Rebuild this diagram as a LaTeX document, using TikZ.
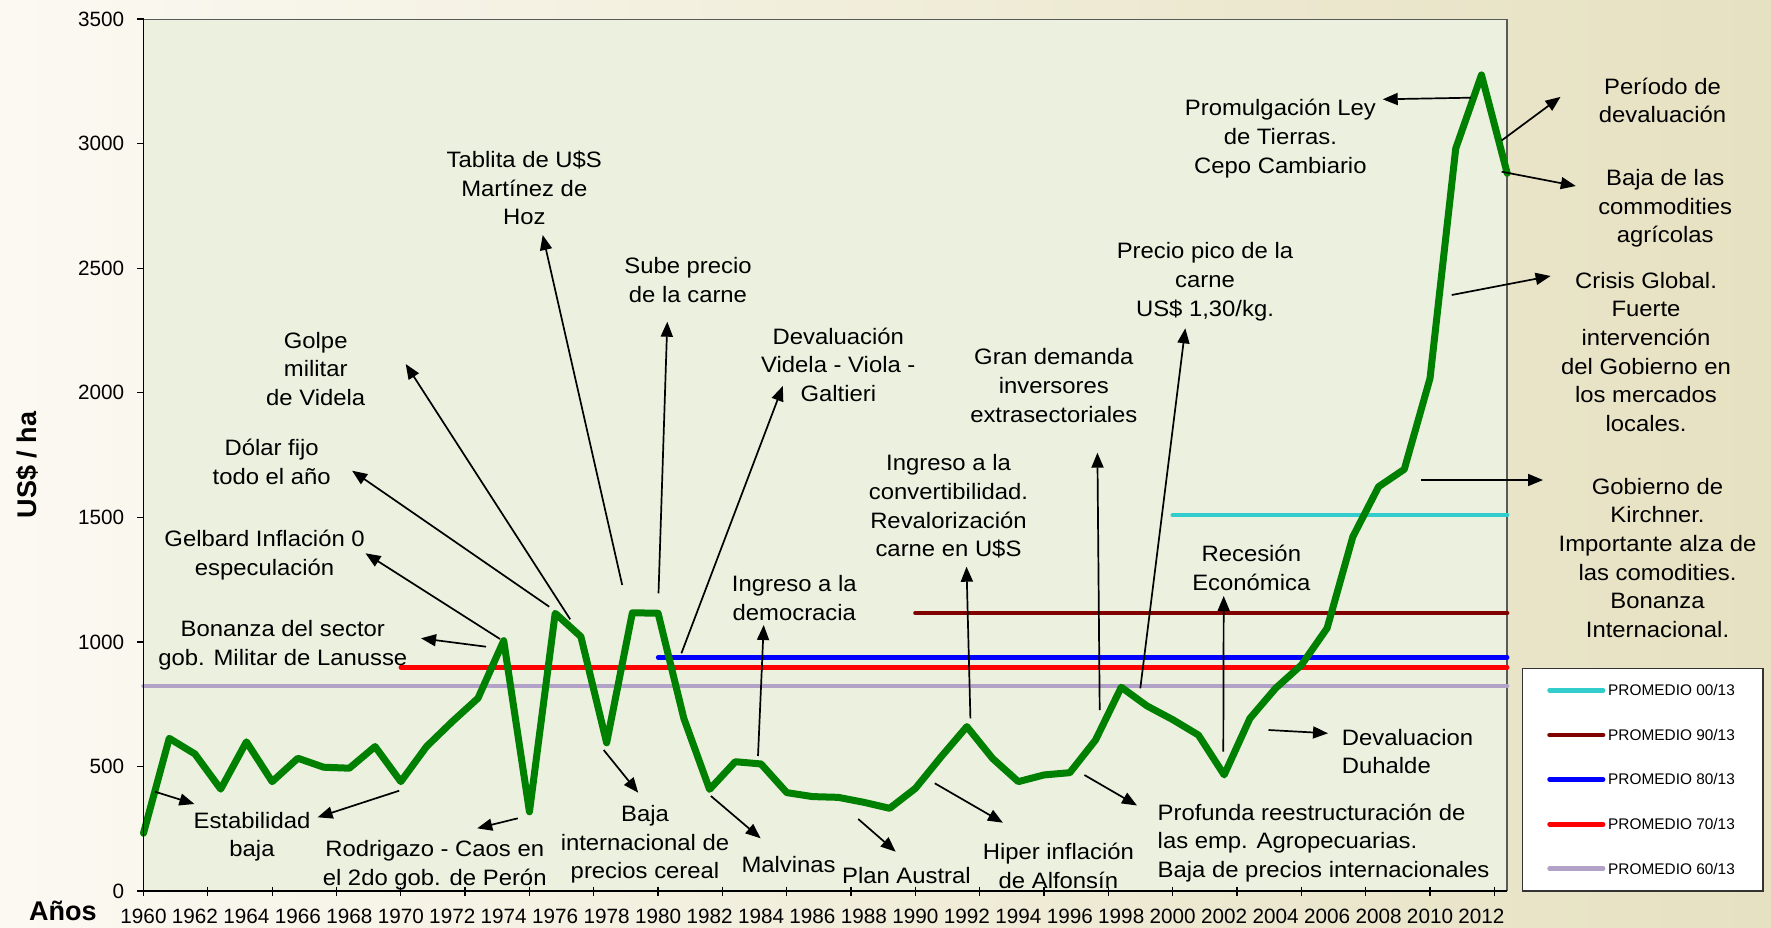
\documentclass[tikz,border=0pt]{standalone}
\usepackage{fontspec}
\setmainfont{Liberation Sans}
\newfontfamily\lblfont{Liberation Sans}[FakeStretch=1.07]
\usetikzlibrary{arrows.meta}
\definecolor{bgL}{HTML}{FBF9F2}
\definecolor{bgR}{HTML}{E6E1C1}
\definecolor{plotbg}{HTML}{ECF0DE}
\definecolor{serie}{HTML}{008000}
\definecolor{pcyan}{HTML}{33CCCC}
\definecolor{pdred}{HTML}{800000}
\definecolor{pblue}{HTML}{0000FF}
\definecolor{pred}{HTML}{FF0000}
\definecolor{plav}{HTML}{B3A2C7}
\newcommand\lstrut{\rule[-8.61pt]{0pt}{28.7pt}}
\begin{document}
\begin{tikzpicture}[x=1pt,y=-1pt,
  lbl/.style={font=\lblfont\fontsize{22.3}{28.7}\selectfont, align=center, inner sep=0pt, anchor=north, text=black},
  lblL/.style={lbl, align=left, anchor=north west},
  arr/.style={-{Triangle[length=15pt,width=12pt]}, line width=1.7pt, black},
  avg/.style={line width=4.5pt, line cap=round},
  serieline/.style={line width=7pt, serie, line join=round, line cap=round},
  axisline/.style={line width=1.3pt, black},
  frameline/.style={line width=1.2pt, black!65},
  ytl/.style={font=\fontsize{20.7}{24}\selectfont, anchor=east, inner sep=0pt},
  xtl/.style={font=\fontsize{20.7}{24}\selectfont, anchor=base, inner sep=0pt},
  ttl/.style={font=\bfseries\fontsize{27}{31}\selectfont, inner sep=0pt},
  legtxt/.style={font=\fontsize{15.4}{18}\selectfont, anchor=west, inner sep=0pt},
]
\useasboundingbox (0,0) rectangle (1771,928);
% background
\shade[left color=bgL, right color=bgR] (0,0) rectangle (1771,928);
% plot area
\fill[plotbg] (143.5,19.2) rectangle (1507,891);
\draw[frameline] (143.5,19.2) -- (1507,19.2) -- (1507,891);

% data
\begin{scope}[shift={(143.5,891)}, x=25.73pt, y=0.2491pt]
  \draw[avg, plav]  (0,823)  -- (53,823);
  \draw[avg, pred]  (10,898) -- (53,898);
  \draw[avg, pblue] (20,938) -- (53,938);
  \draw[avg, pdred] (30,1116) -- (53,1116);
  \draw[avg, pcyan] (40,1509) -- (53,1509);
  \draw[serieline] (0,232) -- (1,613) -- (2,550) -- (3,409) -- (4,599) -- (5,439) -- (6,533) -- (7,497) -- (8,493) -- (9,580)
    -- (10,439) -- (11,580) -- (12,680) -- (13,774) -- (14,1005) -- (15,318) -- (16,1115) -- (17,1021) -- (18,595) -- (19,1117)
    -- (20,1115) -- (21,693) -- (22,408) -- (23,519) -- (24,510) -- (25,395) -- (26,379) -- (27,376) -- (28,356) -- (29,332)
    -- (30,412) -- (31,539) -- (32,660) -- (33,532) -- (34,439) -- (35,466) -- (36,475) -- (37,606) -- (38,818) -- (39,743)
    -- (40,688) -- (41,626) -- (42,466) -- (43,693) -- (44,814) -- (45,907) -- (46,1055) -- (47,1422) -- (48,1623) -- (49,1693)
    -- (50,2058) -- (51,2981) -- (52,3276) -- (53,2881);
\end{scope}

% axes
\draw[axisline] (143.5,19.2) -- (143.5,891) -- (1507,891);
\foreach \v in {0,500,...,3500}{
  \draw[axisline] (137,{891-0.2491*\v}) -- (143.5,{891-0.2491*\v});
  \node[ytl] (yt\v) at (124.4,{891-0.2491*\v}) {\v};
}
\foreach \i in {0,...,21}{
  \draw[axisline] ({143.5+64.325*\i},886.5) -- ({143.5+64.325*\i},896);
}
\foreach \yr in {1960,1962,...,2012}{
  \node[xtl] (xt\yr) at ({143.5+25.73*(\yr-1960)},923.3) {\yr};
}
\node[ttl, anchor=base west] (anios) at (29,920) {Años};
\node[ttl, anchor=base, rotate=90] (usha) at (36.5,465) {US\$ / ha};

% labels
\node[lbl] (estab) at (252,807.9) {\lstrut Estabilidad\\baja};
\node[lbl] (rodri) at (434.7,836.2) {\lstrut Rodrigazo - Caos en\\el 2do gob. de Perón};
\node[lbl] (bonan) at (282.8,616.2) {\lstrut Bonanza del sector\\gob. Militar de Lanusse};
\node[lbl] (gelb) at (264.6,526.2) {\lstrut Gelbard Inflación 0\\especulación};
\node[lbl] (dolar) at (271.7,435.6) {\lstrut Dólar fijo\\todo el año};
\node[lbl] (golpe) at (315.7,327.9) {\lstrut Golpe\\militar\\de Videla};
\node[lbl] (tabl) at (524.3,147.2) {\lstrut Tablita de U\$S\\Martínez de\\Hoz};
\node[lbl] (sube) at (688,253.6) {\lstrut Sube precio\\de la carne};
\node[lbl] (devvvg) at (838.3,323.9) {\lstrut Devaluación\\Videla - Viola -\\Galtieri};
\node[lbl] (democ) at (794.3,571.2) {\lstrut Ingreso a la\\democracia};
\node[lbl] (bajacer) at (645,801.2) {\lstrut Baja\\internacional de\\precios cereal};
\node[lbl] (malv) at (788.6,851.9) {\lstrut Malvinas};
\node[lbl] (austral) at (906.4,862.9) {\lstrut Plan Austral};
\node[lbl] (hiper) at (1058.4,839.6) {\lstrut Hiper inflación\\de Alfonsín};
\node[lblL] (profunda) at (1157.5,799.9) {\lstrut Profunda reestructuración de\\las emp. Agropecuarias.\\Baja de precios internacionales};
\node[lbl] (conv) at (948.5,450.6) {\lstrut Ingreso a la\\convertibilidad.\\Revalorización\\carne en U\$S};
\node[lbl] (gran) at (1053.8,344.6) {\lstrut Gran demanda\\inversores\\extrasectoriales};
\node[lbl] (pico) at (1205,238.7) {\lstrut Precio pico de la\\carne\\US\$ 1,30/kg.};
\node[lbl] (recesion) at (1251.3,541.2) {\lstrut Recesión\\Económica};
\node[lblL] (duhalde) at (1341.7,724.9) {\lstrut Devaluacion\\Duhalde};
\node[lbl] (promul) at (1280.4,95.6) {\lstrut Promulgación Ley\\de Tierras.\\Cepo Cambiario};
\node[lbl] (periodo) at (1662.5,73.9) {\lstrut Período de\\devaluación};
\node[lbl] (bajacom) at (1665.2,165.2) {\lstrut Baja de las\\commodities\\agrícolas};
\node[lbl] (crisis) at (1646,267.9) {\lstrut Crisis Global.\\Fuerte\\intervención\\del Gobierno en\\los mercados\\locales.};
\node[lbl] (kirch) at (1657.5,473.9) {\lstrut Gobierno de\\Kirchner.\\Importante alza de\\las comodities.\\Bonanza\\Internacional.};

% arrows
\coordinate (a1s) at (155,791.7);    \coordinate (a1e) at (194.4,804);
\coordinate (a2s) at (399.2,790.7);  \coordinate (a2e) at (317.6,817.3);
\coordinate (a3s) at (517.8,818.3);  \coordinate (a3e) at (477.2,828.3);
\coordinate (a4s) at (486,646.7);    \coordinate (a4e) at (421,638.3);
\coordinate (a5s) at (500,639);      \coordinate (a5e) at (365.5,553.3);
\coordinate (a6s) at (549.2,606.7);  \coordinate (a6e) at (352.1,470.7);
\coordinate (a7s) at (570.2,619.3);  \coordinate (a7e) at (405.7,364);
\coordinate (a8s) at (622.2,585);    \coordinate (a8e) at (542.7,235);
\coordinate (a9s) at (658.5,593.3);  \coordinate (a9e) at (667.3,321.7);
\coordinate (a10s) at (681.4,653.3); \coordinate (a10e) at (782.8,386);
\coordinate (a11s) at (758,756);     \coordinate (a11e) at (763.7,625);
\coordinate (a12s) at (603.7,750);   \coordinate (a12e) at (638.2,792.7);
\coordinate (a13s) at (710.9,796);   \coordinate (a13e) at (760.6,838.3);
\coordinate (a14s) at (858.2,819);   \coordinate (a14e) at (895.7,851.7);
\coordinate (a15s) at (934.8,783.3); \coordinate (a15e) at (1002.9,822.7);
\coordinate (a16s) at (1084.4,775);  \coordinate (a16e) at (1137,805.5);
\coordinate (a17s) at (970.4,718.3); \coordinate (a17e) at (966.5,566.7);
\coordinate (a18s) at (1099.7,710);  \coordinate (a18e) at (1097.4,452.7);
\coordinate (a19s) at (1140.3,688.3);\coordinate (a19e) at (1185.3,328.3);
\coordinate (a20s) at (1223.3,751.7);\coordinate (a20e) at (1223.7,596);
\coordinate (a21s) at (1268.5,730);  \coordinate (a21e) at (1328,733.3);
\coordinate (a22s) at (1470.9,97.7); \coordinate (a22e) at (1382.7,99.3);
\coordinate (a23s) at (1501.6,140.5);\coordinate (a23e) at (1560.5,96.9);
\coordinate (a24s) at (1501.6,171.7);\coordinate (a24e) at (1575.8,186);
\coordinate (a25s) at (1451.7,295);  \coordinate (a25e) at (1550.6,276);
\coordinate (a26s) at (1421,480);    \coordinate (a26e) at (1543,480);
\foreach \k in {1,...,26}{ \draw[arr] (a\k s) -- (a\k e); }

% legend
\draw[line width=1.2pt, black!80, fill=white] (1522.6,668.3) rectangle (1762.9,891);
\coordinate (l1a) at (1549.5,690.3); \coordinate (l1b) at (1603.1,690.3);
\coordinate (l2a) at (1549.5,735);   \coordinate (l2b) at (1603.1,735);
\coordinate (l3a) at (1549.5,779.3); \coordinate (l3b) at (1603.1,779.3);
\coordinate (l4a) at (1549.5,824.3); \coordinate (l4b) at (1603.1,824.3);
\coordinate (l5a) at (1549.5,868.7); \coordinate (l5b) at (1603.1,868.7);
\draw[avg, pcyan] (l1a) -- (l1b);
\draw[avg, pdred] (l2a) -- (l2b);
\draw[avg, pblue] (l3a) -- (l3b);
\draw[avg, pred]  (l4a) -- (l4b);
\draw[avg, plav]  (l5a) -- (l5b);
\node[legtxt] (l1t) at (1608,690.3) {PROMEDIO 00/13};
\node[legtxt] (l2t) at (1608,735)   {PROMEDIO 90/13};
\node[legtxt] (l3t) at (1608,779.3) {PROMEDIO 80/13};
\node[legtxt] (l4t) at (1608,824.3) {PROMEDIO 70/13};
\node[legtxt] (l5t) at (1608,868.7) {PROMEDIO 60/13};
\end{tikzpicture}
\end{document}
